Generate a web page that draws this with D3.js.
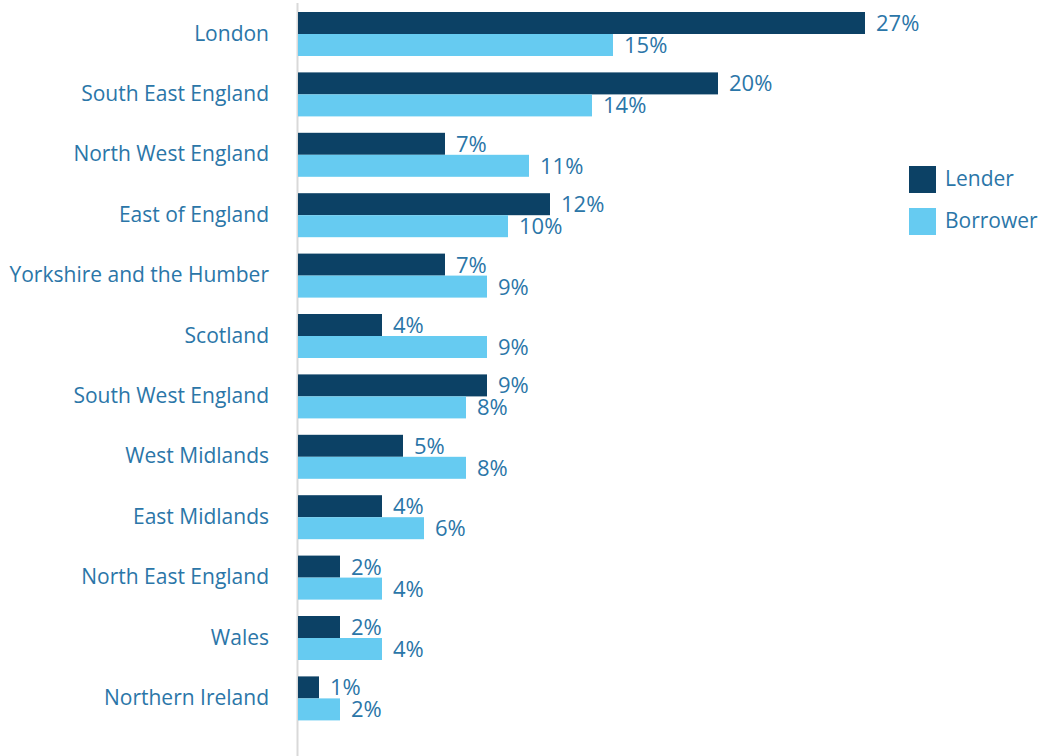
<!DOCTYPE html>
<html>
<head>
<meta charset="utf-8">
<script src="https://cdn.jsdelivr.net/npm/d3@7"></script>
<style>
  html, body { margin: 0; padding: 0; background: #fff; }
  svg { display: block; }
  text { font-family: "Open Sans", sans-serif; }
</style>
</head>
<body>
<svg id="chart" width="1046" height="756"></svg>
<script>
const categories = ["London", "South East England", "North West England", "East of England",
  "Yorkshire and the Humber", "Scotland", "South West England", "West Midlands",
  "East Midlands", "North East England", "Wales", "Northern Ireland"];
const seriesNames = ["Lender", "Borrower"];
const lender =   [27, 20, 7, 12, 7, 4, 9, 5, 4, 2, 2, 1];
const borrower = [15, 14, 11, 10, 9, 9, 8, 8, 6, 4, 4, 2];

const colors = { Lender: "#0c4165", Borrower: "#66cbf1" };
const textColor = "#2b76a8";
const fontSize = 21;
const valFontSize = 22;

const svg = d3.select("#chart");
const W = 1046, H = 756;
const x0 = 298;

const x = d3.scaleLinear().domain([0, 27]).range([x0, 865]);
const y = d3.scaleBand().domain(categories).range([12, 720.4])
  .paddingInner(16.4 / 60.4).paddingOuter(0);
const ySub = d3.scaleBand().domain(seriesNames).range([0, y.bandwidth()]);

const data = categories.map((c, i) => ({ cat: c, Lender: lender[i], Borrower: borrower[i] }));

// axis line
svg.append("line")
  .attr("x1", x0 - 0.5).attr("x2", x0 - 0.5)
  .attr("y1", 3).attr("y2", H)
  .attr("stroke", "#d9d9d9").attr("stroke-width", 2);

const g = svg.append("g");
const groups = g.selectAll("g.grp").data(data).join("g")
  .attr("class", "grp")
  .attr("transform", d => `translate(0,${y(d.cat)})`);

groups.selectAll("rect").data(d => seriesNames.map(s => ({ s, v: d[s] }))).join("rect")
  .attr("x", x(0))
  .attr("y", d => ySub(d.s))
  .attr("width", d => x(d.v) - x(0))
  .attr("height", ySub.bandwidth())
  .attr("fill", d => colors[d.s]);

groups.selectAll("text.val").data(d => seriesNames.map(s => ({ s, v: d[s] }))).join("text")
  .attr("class", "val")
  .attr("x", d => x(d.v) + 11)
  .attr("y", d => ySub(d.s) + ySub.bandwidth() - 3)
  .attr("fill", textColor)
  .attr("font-size", valFontSize)
  .text(d => d.v + "%");

// category labels
const yAxis = d3.axisLeft(y).tickSize(0).tickPadding(0);
const ax = svg.append("g").attr("transform", `translate(269,0)`).call(yAxis);
ax.select(".domain").remove();
ax.selectAll("text")
  .attr("font-family", "'Open Sans', sans-serif")
  .attr("font-size", fontSize)
  .attr("fill", textColor)
  .attr("dy", null)
  .attr("y", 1)
  .attr("dominant-baseline", "middle");

// legend
const legend = svg.append("g");
const legY = d3.scalePoint().domain(seriesNames).range([166, 208]);
seriesNames.forEach(s => {
  legend.append("rect")
    .attr("x", 909).attr("y", legY(s))
    .attr("width", 27).attr("height", 27)
    .attr("fill", colors[s]);
  legend.append("text")
    .attr("x", 945).attr("y", legY(s) + 20)
    .attr("font-size", fontSize)
    .attr("fill", textColor)
    .text(s);
});
</script>
</body>
</html>
